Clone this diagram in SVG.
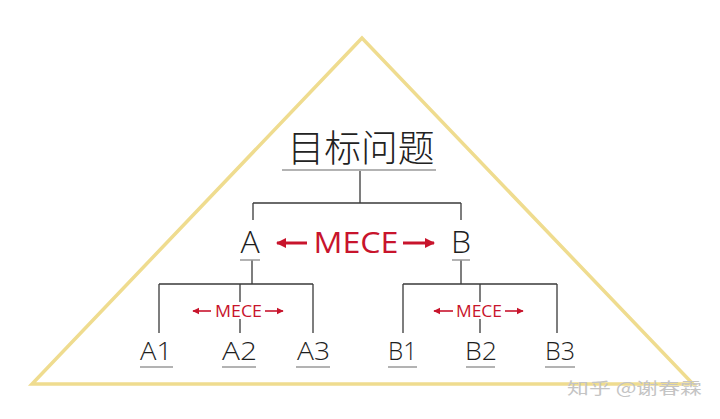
<svg xmlns="http://www.w3.org/2000/svg" width="720" height="419" viewBox="0 0 720 419">
<style>
.tri{fill:none;stroke:#efdc8f;stroke-width:3.5;stroke-linejoin:miter}
.ln{fill:none;stroke:#3a3a3a;stroke-width:1.3}
.ul{fill:none;stroke:#9a9a9a;stroke-width:1.5}
.title{font-family:"Noto Sans CJK SC","Noto Sans",sans-serif;font-weight:300;font-size:37px;fill:#222;text-anchor:middle}
.lbl{font-family:"Open Sans","Noto Sans",sans-serif;font-weight:300;fill:#1e1e1e;text-anchor:middle}
.big{font-size:32px}
.sm{font-size:25px}
.mece{font-family:"Open Sans","Noto Sans",sans-serif;font-weight:400;fill:#c8142c;text-anchor:middle}
.arr{stroke:#c8142c;fill:none}
.wm{font-family:"Noto Sans CJK SC",sans-serif;font-size:16px;fill:#c4c4c4;stroke:#ffffff;stroke-width:0}
</style>
<defs>
<marker id="ah" viewBox="0 0 10 10" refX="9" refY="5" markerWidth="3.4" markerHeight="3.4" orient="auto-start-reverse" markerUnits="strokeWidth">
<path d="M0,0 L10,5 L0,10 z" fill="#c8142c"/>
</marker>
<marker id="ahs" viewBox="0 0 10 10" refX="9" refY="5" markerWidth="4.5" markerHeight="4.5" orient="auto-start-reverse" markerUnits="strokeWidth">
<path d="M0,0 L10,5 L0,10 z" fill="#c8142c"/>
</marker>
</defs>
<rect width="720" height="419" fill="#ffffff"/>
<polygon class="tri" points="362,38 32,384 693,384"/>

<g id="connectors">
<path class="ln" d="M360,171 V203 M253,203 H461 M253,203 V220 M461,203 V220"/>
<path class="ln" d="M252,260 V284 M159,284 H313 M159,284 V333 M240,284 V333 M313,284 V333"/>
<path class="ln" d="M461,260 V284 M403,284 H557 M403,284 V333 M480,284 V333 M557,284 V333"/>
</g>

<g id="root">
<text class="title" x="361" y="162" textLength="147" lengthAdjust="spacingAndGlyphs">目标问题</text>
<line class="ul" x1="282" y1="170" x2="436" y2="170"/>
</g>

<g id="nodeA">
<text class="lbl big" x="250" y="253">A</text>
<line class="ul" x1="240" y1="260" x2="260" y2="260"/>
</g>
<g id="nodeB">
<text class="lbl big" x="461" y="253">B</text>
<line class="ul" x1="452" y1="260" x2="470" y2="260"/>
</g>

<g id="meceAB">
<line class="arr" stroke-width="3" x1="307" y1="243" x2="277" y2="243" marker-end="url(#ah)"/>
<text class="mece" x="356" y="253" font-size="30" textLength="85" lengthAdjust="spacingAndGlyphs">MECE</text>
<line class="arr" stroke-width="3" x1="403" y1="243" x2="434" y2="243" marker-end="url(#ah)"/>
</g>

<g id="meceA">
<rect x="213" y="302" width="51" height="17" fill="#ffffff"/>
<line class="arr" stroke-width="1.6" x1="211" y1="311" x2="193" y2="311" marker-end="url(#ahs)"/>
<text class="mece" x="238.5" y="317" font-size="16" textLength="47" lengthAdjust="spacingAndGlyphs">MECE</text>
<line class="arr" stroke-width="1.6" x1="265" y1="311" x2="283" y2="311" marker-end="url(#ahs)"/>
</g>
<g id="meceB">
<rect x="454" y="302" width="50" height="17" fill="#ffffff"/>
<line class="arr" stroke-width="1.6" x1="453" y1="311" x2="434" y2="311" marker-end="url(#ahs)"/>
<text class="mece" x="479" y="317" font-size="16" textLength="46" lengthAdjust="spacingAndGlyphs">MECE</text>
<line class="arr" stroke-width="1.6" x1="505" y1="311" x2="523" y2="311" marker-end="url(#ahs)"/>
</g>

<g id="nodeA1"><text class="lbl sm" x="156" y="360" textLength="32" lengthAdjust="spacingAndGlyphs">A1</text><line class="ul" x1="140" y1="367" x2="173" y2="367"/></g>
<g id="nodeA2"><text class="lbl sm" x="239.5" y="360" textLength="35" lengthAdjust="spacingAndGlyphs">A2</text><line class="ul" x1="222" y1="367" x2="256" y2="367"/></g>
<g id="nodeA3"><text class="lbl sm" x="313.5" y="360" textLength="33" lengthAdjust="spacingAndGlyphs">A3</text><line class="ul" x1="296" y1="367" x2="330" y2="367"/></g>
<g id="nodeB1"><text class="lbl sm" x="402.5" y="360" textLength="29" lengthAdjust="spacingAndGlyphs">B1</text><line class="ul" x1="388" y1="367" x2="417" y2="367"/></g>
<g id="nodeB2"><text class="lbl sm" x="481" y="360" textLength="32" lengthAdjust="spacingAndGlyphs">B2</text><line class="ul" x1="466" y1="367" x2="495" y2="367"/></g>
<g id="nodeB3"><text class="lbl sm" x="560" y="360" textLength="30" lengthAdjust="spacingAndGlyphs">B3</text><line class="ul" x1="545" y1="367" x2="575" y2="367"/></g>

<text class="wm" x="567" y="394" textLength="135" lengthAdjust="spacingAndGlyphs">知乎 @谢春霖</text>
</svg>
